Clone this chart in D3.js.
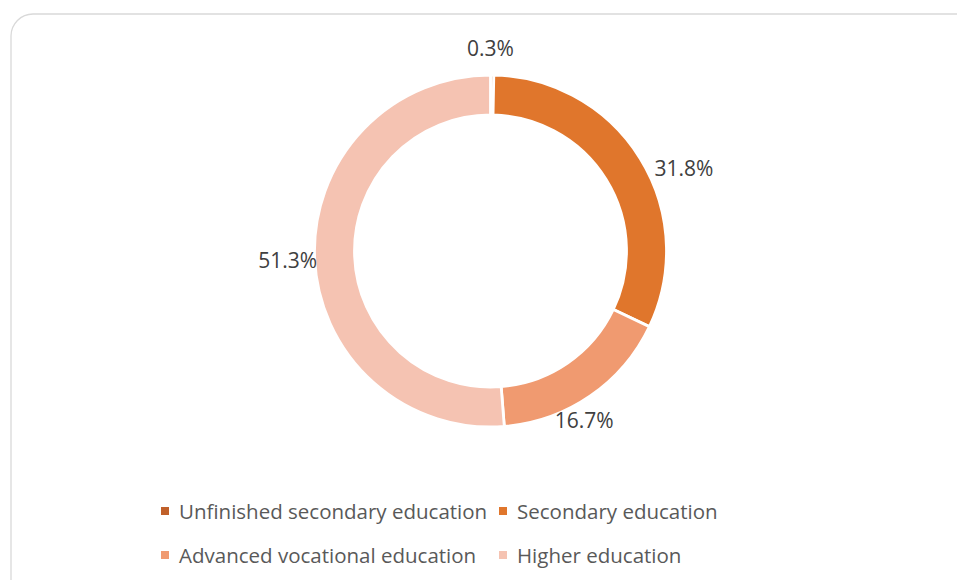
<!DOCTYPE html>
<html>
<head>
<meta charset="utf-8">
<script src="https://cdn.jsdelivr.net/npm/d3@7"></script>
<style>
  body { margin: 0; background: #fff; }
  text { font-family: "Open Sans", "Liberation Sans", sans-serif; }
</style>
</head>
<body>
<div id="chart"></div>
<script>
const categories = ["Unfinished secondary education", "Secondary education", "Advanced vocational education", "Higher education"]
const values = [0.3, 31.8, 16.7, 51.3]
const colors = ["#C0602A", "#E0762C", "#F09A70", "#F5C3B2"]

const width = 957
const height = 580
const cx = 490.5, cy = 251
const outerR = 176, innerR = 136

const svg = d3.select("#chart").append("svg")
    .attr("width", width)
    .attr("height", height)

// frame (runs off the right and bottom edge like the original)
svg.append("rect")
    .attr("x", 11).attr("y", 14)
    .attr("width", 975).attr("height", 600)
    .attr("rx", 22).attr("ry", 22)
    .attr("fill", "#fff")
    .attr("stroke", "#d9d9d9")
    .attr("stroke-width", 1.3)

const data = categories.map((c, i) => ({ name: c, value: values[i], color: colors[i] }))

const pie = d3.pie().sort(null).value(d => d.value)
const arc = d3.arc().innerRadius(innerR).outerRadius(outerR)
const arcs = pie(data)

const g = svg.append("g").attr("transform", `translate(${cx},${cy})`)

g.selectAll("path")
    .data(arcs)
    .join("path")
    .attr("d", arc)
    .attr("fill", d => d.data.color)
    .attr("stroke", "#fff")
    .attr("stroke-width", 2.8)

// data labels, placed outside the ring (best-fit nudges)
const labelOffsets = [
    { r: 203, dx: -2, dy: 0 },
    { r: 205, dx: 19, dy: 25 },
    { r: 190, dx: -14, dy: 13 },
    { r: 205, dx: 2, dy: 1 }
]
const fmt = d => d.toFixed(1) + "%"

g.selectAll("text.lbl")
    .data(arcs)
    .join("text")
    .attr("class", "lbl")
    .attr("transform", (d, i) => {
        const a = (d.startAngle + d.endAngle) / 2
        const o = labelOffsets[i]
        return `translate(${Math.sin(a) * o.r + o.dx},${-Math.cos(a) * o.r + o.dy})`
    })
    .attr("text-anchor", "middle")
    .attr("dy", "0.36em")
    .attr("font-size", 21)
    .attr("fill", "#404040")
    .text(d => fmt(d.data.value))

// legend, two rows
const legendPos = [[161, 511], [499, 511], [161, 555], [499, 555]]
const legend = svg.append("g")
    .selectAll("g")
    .data(data)
    .join("g")
    .attr("transform", (d, i) => `translate(${legendPos[i][0]},${legendPos[i][1]})`)

legend.append("rect")
    .attr("x", 0).attr("y", -4)
    .attr("width", 8).attr("height", 8)
    .attr("fill", d => d.color)

legend.append("text")
    .attr("x", 18)
    .attr("y", 8)
    .attr("font-size", 20.5)
    .attr("fill", "#595959")
    .text(d => d.name)
</script>
</body>
</html>
